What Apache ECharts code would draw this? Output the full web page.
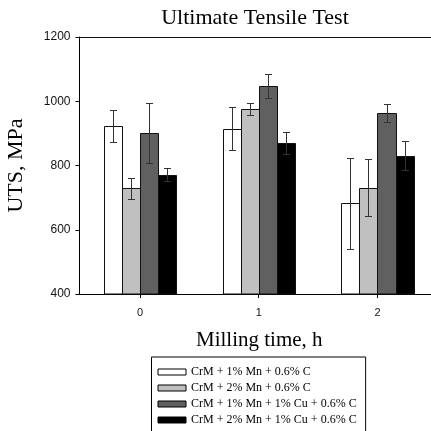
<!DOCTYPE html>
<html>
<head>
<meta charset="utf-8">
<script src="https://cdn.jsdelivr.net/npm/echarts@6/dist/echarts.min.js"></script>
<style>
  html, body { margin: 0; padding: 0; background: #fff; }
  #chart { width: 431px; height: 431px; }
</style>
</head>
<body>
<div id="chart"></div>
<script>
// Milling time (h) and the tensile strength of each alloy, with its scatter
const millingTime = [0, 1, 2];
const tickLabels = ['0', '1', '2'];
const yTicks = [400, 600, 800, 1000, 1200];

const alloyNames = [
  'CrM + 1% Mn + 0.6% C',
  'CrM + 2% Mn + 0.6% C',
  'CrM + 1% Mn + 1% Cu + 0.6% C',
  'CrM + 2% Mn + 1% Cu + 0.6% C'
];

const utsMn1 = [922, 915, 682];
const errMn1 = [50, 66, 141];
const utsMn2 = [729, 976, 731];
const errMn2 = [32, 19, 89];
const utsMn1Cu = [902, 1047, 964];
const errMn1Cu = [94, 38, 28];
const utsMn2Cu = [771, 869, 831];
const errMn2Cu = [20, 34, 45];

const utsValues = [utsMn1, utsMn2, utsMn1Cu, utsMn2Cu];
const utsErrors = [errMn1, errMn2, errMn1Cu, errMn2Cu];
const fills = ['#ffffff', '#c0c0c0', '#606060', '#000000'];

const yMin = 400, yMax = 1200;
const xMin = -0.509, xMax = 2.518;
const barW = 0.152;     // bar width in hours
const capHalf = 3.5;    // error bar cap half-width, px

function makeRender(idx) {
  const offset = (idx - 1.5) * barW;
  return function (params, api) {
    const x = api.value(0) + offset;
    const v = api.value(1);
    const e = api.value(2);
    const tl = api.coord([x - barW / 2, v]);
    const br = api.coord([x + barW / 2, yMin]);
    const left = Math.round(tl[0]) + 0.5;
    const right = Math.round(br[0]) + 0.5;
    const top = Math.round(tl[1]) + 0.5;
    const bottom = Math.round(br[1]);
    const cx = Math.round((tl[0] + br[0]) / 2) + 0.5;
    const eTop = Math.round(api.coord([x, v + e])[1]) + 0.5;
    const eBot = Math.round(api.coord([x, v - e])[1]) + 0.5;
    const errStyle = { stroke: '#333', lineWidth: 1 };
    return {
      type: 'group',
      children: [
        {
          type: 'rect',
          shape: { x: left, y: top, width: right - left, height: bottom - top },
          style: { fill: api.visual('color'), stroke: '#111', lineWidth: 1 }
        },
        { type: 'line', shape: { x1: cx, y1: eTop, x2: cx, y2: eBot }, style: errStyle },
        { type: 'line', shape: { x1: cx - capHalf, y1: eTop, x2: cx + capHalf, y2: eTop }, style: errStyle },
        { type: 'line', shape: { x1: cx - capHalf, y1: eBot, x2: cx + capHalf, y2: eBot }, style: errStyle }
      ]
    };
  };
}

const series = alloyNames.map((name, i) => ({
  name: name,
  type: 'custom',
  xAxisIndex: 0,
  itemStyle: { color: fills[i] },
  renderItem: makeRender(i),
  encode: { x: 0, y: 1 },
  data: millingTime.map((t, k) => [t, utsValues[i][k], utsErrors[i][k]]),
  z: 2
}));

const chart = echarts.init(document.getElementById('chart'), null, { renderer: 'canvas' });
chart.setOption({
  animation: false,
  backgroundColor: '#fff',
  graphic: [{
    type: 'text',
    x: 255,
    y: 18,
    style: {
      text: 'Ultimate Tensile Test',
      font: '22px "Liberation Serif"',
      fill: '#000',
      textAlign: 'center',
      textVerticalAlign: 'middle'
    }
  }],
  grid: {
    left: 79.5,
    right: -8,
    top: 37,
    bottom: 137,
    outerBoundsMode: 'none',
    containLabel: false,
    show: false
  },
  xAxis: [{
    type: 'value',
    min: xMin,
    max: xMax,
    name: 'Milling time, h',
    nameLocation: 'middle',
    nameGap: 36,
    nameTextStyle: { fontFamily: 'Liberation Serif', fontSize: 21, color: '#000' },
    axisLine: { show: true, onZero: false, lineStyle: { color: '#000', width: 1 } },
    axisTick: { show: true, length: 4, customValues: millingTime, lineStyle: { color: '#000' } },
    axisLabel: {
      customValues: millingTime,
      formatter: (v) => tickLabels[millingTime.indexOf(v)],
      fontFamily: 'Liberation Sans',
      fontSize: 11,
      color: '#111',
      margin: 13
    },
    splitLine: { show: false }
  }, {
    // top frame line of the plot area
    type: 'value',
    position: 'top',
    min: xMin,
    max: xMax,
    axisLine: { show: true, onZero: false, lineStyle: { color: '#111', width: 1 } },
    axisTick: { show: false },
    axisLabel: { show: false },
    splitLine: { show: false }
  }],
  yAxis: {
    type: 'value',
    min: yMin,
    max: yMax,
    interval: 200,
    name: 'UTS, MPa',
    nameLocation: 'middle',
    nameGap: 52,
    nameTextStyle: { fontFamily: 'Liberation Serif', fontSize: 22, color: '#000' },
    axisLine: { show: true, onZero: false, lineStyle: { color: '#000', width: 1 } },
    axisTick: { show: true, length: 4, customValues: yTicks, lineStyle: { color: '#000' } },
    axisLabel: {
      customValues: yTicks,
      formatter: (v) => String(v),
      fontFamily: 'Liberation Sans',
      fontSize: 12,
      color: '#111',
      margin: 9
    },
    splitLine: { show: false }
  },
  legend: {
    orient: 'vertical',
    left: 151.5,
    top: 357,
    height: 120,
    padding: [8, 9, 16, 6],
    itemWidth: 28,
    itemHeight: 6,
    itemGap: 2,
    icon: 'rect',
    backgroundColor: '#fff',
    borderColor: '#000',
    borderWidth: 1,
    borderRadius: 0,
    itemStyle: { borderColor: '#000', borderWidth: 1 },
    textStyle: { fontFamily: 'Liberation Serif', fontSize: 12, color: '#000', lineHeight: 14 },
    data: alloyNames
  },
  series: series
});
</script>
</body>
</html>
